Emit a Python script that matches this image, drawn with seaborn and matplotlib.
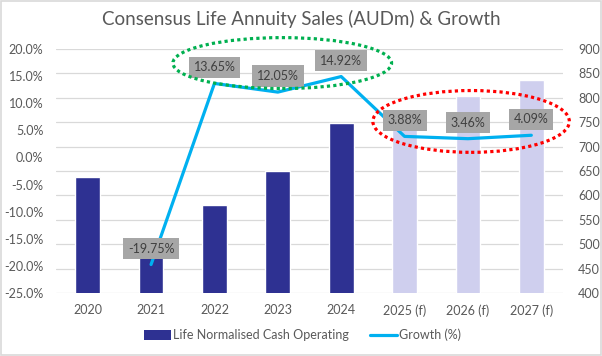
import numpy as np
import pandas as pd
import matplotlib
matplotlib.use("Agg")
import matplotlib.pyplot as plt
from matplotlib.patches import Ellipse, Patch, Rectangle
from matplotlib.lines import Line2D
from matplotlib.ticker import FuncFormatter, MultipleLocator
import seaborn as sns

# ---- data ----
years = ["2020", "2021", "2022", "2023", "2024", "2025 (f)", "2026 (f)", "2027 (f)"]
sales = [637, 511, 581, 651, 748, 777, 804, 837]          # AUDm (right axis)
growth = [np.nan, -19.75, 13.65, 12.05, 14.92, 3.88, 3.46, 4.09]  # % (left axis)
is_forecast = [False, False, False, False, False, True, True, True]

bar_label = "Life Normalised Cash Operating"
line_label = "Growth (%)"
title = "Consensus Life Annuity Sales (AUDm) & Growth"

NAVY = "#2E3192"
LAV = "#CFCFEE"
CYAN = "#00B0F0"
GRID = "#D9D9D9"
TXT = "#595959"

sns.set_style("white")
plt.rcParams["font.family"] = ["Liberation Sans Narrow", "Lato", "DejaVu Sans"]

df = pd.DataFrame({"year": years, "sales": sales, "growth": growth,
                   "forecast": is_forecast})
df["pos"] = np.arange(len(df))
palette = {y: (LAV if f else NAVY) for y, f in zip(years, is_forecast)}

fig = plt.figure(figsize=(6.02, 3.56), dpi=100)
ax = fig.add_axes([56 / 602, 63 / 356, (563 - 56) / 602, (293 - 49) / 356])

sns.barplot(data=df, x="year", y="sales", hue="year", palette=palette,
            width=0.39, legend=False, ax=ax, saturation=1)
ax.set_ylim(400, 900)
ax.yaxis.set_major_locator(MultipleLocator(50))
ax.set_axisbelow(True)
ax.grid(axis="y", color=GRID, lw=0.9)
ax.grid(axis="x", visible=False)
ax.set_xlabel("")
ax.set_ylabel("")
ax.set_xlim(-0.5, len(years) - 0.5)

ax2 = ax.twinx()
sns.lineplot(data=df, x="pos", y="growth", color=CYAN, lw=2.3,
             estimator=None, ax=ax2, legend=False)
ax2.set_ylim(-25, 20)
ax2.yaxis.set_major_locator(MultipleLocator(5))
ax2.yaxis.set_major_formatter(FuncFormatter(lambda v, p: f"{v:.1f}%"))
ax2.set_xlabel("")
ax2.set_ylabel("")
ax2.grid(False)

# swap sides: growth on the left, sales on the right
ax.yaxis.tick_right()
ax.yaxis.set_label_position("right")
ax2.yaxis.tick_left()
ax2.yaxis.set_label_position("left")

for a in (ax, ax2):
    for s in a.spines.values():
        s.set_visible(False)
    a.tick_params(length=0, colors=TXT, labelsize=9)
ax.tick_params(axis="y", pad=11)
ax.tick_params(axis="x", pad=8)
ax2.tick_params(axis="y", pad=9)

# data labels
for p, g in zip(df["pos"], df["growth"]):
    if np.isnan(g):
        continue
    ax2.annotate(f"{g:.2f}%", (p, g), xytext=(0, 11.5), textcoords="offset points",
                 ha="center", va="center", fontsize=9, color="#404040",
                 family=["Lato", "DejaVu Sans"],
                 bbox=dict(boxstyle="square,pad=0.38", fc="#A6A6A6", ec="none"),
                 zorder=5)

# highlight ellipses
ax2.add_patch(Ellipse((3.07, 17.4), 3.45, 9.4, fill=False, ec="#00B050",
                      lw=2.3, ls=(0, (1, 1)), clip_on=False, zorder=6))
ax2.add_patch(Ellipse((6.05, 6.64), 3.10, 11.4, fill=False, ec="#FF0000",
                      lw=2.3, ls=(0, (1, 1)), clip_on=False, zorder=6))

fig.text(0.5, 1 - 19 / 356, title, ha="center", va="center", fontsize=13.5,
         color=TXT, family=["Lato", "DejaVu Sans"])

handles = [Patch(facecolor=NAVY, edgecolor="none"),
           Line2D([0], [0], color=CYAN, lw=2.3)]
fig.legend(handles, [bar_label, line_label], loc="center",
           bbox_to_anchor=(0.503, 1 - 335 / 356), ncol=2, frameon=False,
           fontsize=9, labelcolor=TXT, handlelength=2.1, handleheight=0.8,
           handletextpad=0.2, columnspacing=1.7)

fig.patches.append(Rectangle((0.001, 0.002), 0.997, 0.995, transform=fig.transFigure,
                             fill=False, ec=GRID, lw=1.2))

fig.savefig("out.png", dpi=100)
